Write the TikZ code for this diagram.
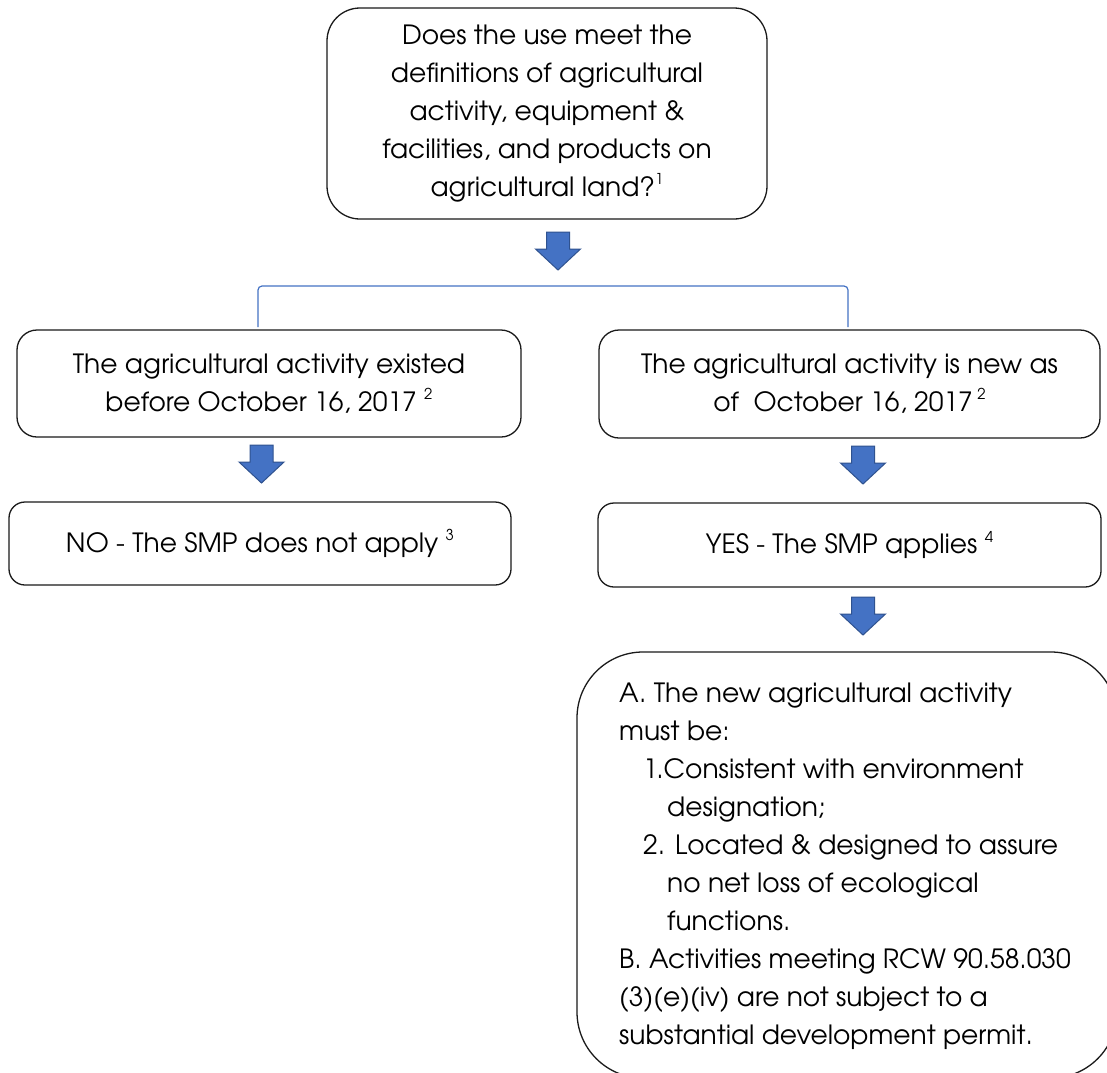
\documentclass[tikz,border=0pt]{standalone}
\usepackage{fontspec}
\setmainfont{texgyreadventor}[Extension=.otf, UprightFont=*-regular, BoldFont=*-bold, ItalicFont=*-italic, BoldItalicFont=*-bolditalic]
\definecolor{arrowblue}{HTML}{4472C4}
\definecolor{arrowedge}{HTML}{2F528F}
\definecolor{boxline}{HTML}{1A1A1A}
\tikzset{
  box/.style={draw=boxline, line width=1.3pt, fill=white, align=center, inner sep=0pt,
              font=\fontsize{26.5}{38}\selectfont, text=black},
  boxtext/.style={align=left, inner sep=0pt, font=\fontsize{26.5}{38}\selectfont, text=black},
  bracketline/.style={draw=arrowblue, line width=1.2pt, rounded corners=4pt},
  blockarrow/.pic={\draw[draw=arrowedge, fill=arrowblue, line width=1pt, line join=miter]
     (-11.5,0) -- (11.5,0) -- (11.5,17) -- (22.5,17) -- (0,38) -- (-22.5,17) -- (-11.5,17) -- cycle;}
}
\newcommand{\supnum}[1]{\raisebox{0.45em}{\fontsize{15}{15}\selectfont #1}}
\begin{document}
\begin{tikzpicture}[x=1pt,y=-1pt]
\clip (0,0) rectangle (1107,1072);
\fill[white] (0,0) rectangle (1107,1072);

\node[box, rounded corners=33pt, minimum width=440pt, minimum height=211pt] (top) at (547,113.5)
  {Does the use meet the\\definitions of agricultural\\activity, equipment \&\\facilities, and products on\\agricultural land?\supnum{1}};

\node[box, rounded corners=20pt, minimum width=504pt, minimum height=107pt] (lb) at (269,383.5)
  {The agricultural activity existed\\before October 16, 2017 \supnum{2}};

\node[box, rounded corners=20pt, minimum width=501pt, minimum height=108pt] (rb) at (849.5,384)
  {The agricultural activity is new as\\of~ October 16, 2017\,\supnum{2}};

\node[box, rounded corners=16pt, minimum width=502pt, minimum height=83pt] (no) at (260,543.5)
  {NO - The SMP does not apply \supnum{3}};

\node[box, rounded corners=16pt, minimum width=503pt, minimum height=84pt] (yes) at (849.5,545)
  {YES - The SMP applies \supnum{4}};

\node[box, rounded corners=66pt, minimum width=540pt, minimum height=426pt] (big) at (847,865) {};
\node[boxtext, anchor=north west] (bigtext) at (619,683)
  {A. The new agricultural activity\\
   must be:\\
   \hspace*{24pt}1.Consistent with environment\\
   \hspace*{48pt}designation;\\
   \hspace*{24pt}2. Located \& designed to assure\\
   \hspace*{48pt}no net loss of ecological\\
   \hspace*{48pt}functions.\\
   B. Activities meeting RCW 90.58.030\\
   (3)(e)(iv) are not subject to a\\
   substantial development permit.};

% block arrows
\pic at (558,232) {blockarrow};
\pic at (261.5,445) {blockarrow};
\pic at (863,446) {blockarrow};
\pic at (863,597) {blockarrow};

% bracket connector
\coordinate (bl) at (258,327);
\coordinate (br) at (848,327);
\draw[bracketline] (bl) -- (bl |- 0,286) -- (br |- 0,286) -- (br);
\end{tikzpicture}
\end{document}
